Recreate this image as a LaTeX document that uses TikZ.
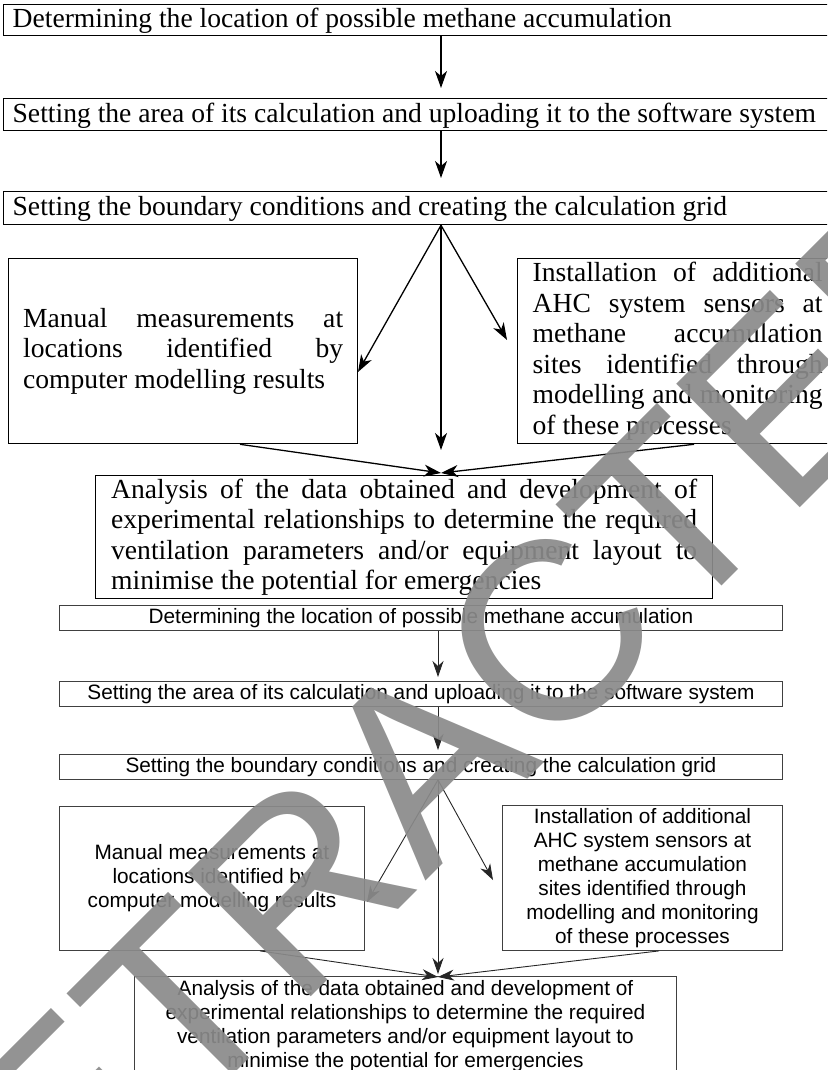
\documentclass[tikz,border=0pt]{standalone}
\usepackage{fontspec}
\setmainfont{Liberation Serif}
\setsansfont{Liberation Sans}
\newfontfamily\stampfont{Liberation Sans}
\usetikzlibrary{arrows.meta}
\newcommand{\jline}[2]{\makebox[#1][s]{\spaceskip=.25em plus 1fil\relax#2}}

\begin{document}
\begin{tikzpicture}[x=1pt,y=-1pt,
  top box/.style={draw,line width=1.3pt,anchor=north west,inner ysep=0pt,font=\fontsize{27.6}{30.5}\selectfont},
  top line/.style={top box,text height=21pt,text depth=6pt,inner xsep=9pt},
  low box/.style={draw=black!75,line width=0.9pt,anchor=north west,inner ysep=0pt,inner xsep=0pt,font=\sffamily\fontsize{20.8}{24}\selectfont},
  low line/.style={low box,text height=15pt,text depth=4.5pt,minimum height=25pt},
  top arrow/.style={-{Stealth[length=17pt,width=12pt,inset=5pt]},line width=1.3pt},
  low arrow/.style={-{Stealth[length=16pt,width=11pt,inset=5pt]},line width=0.9pt,draw=black!85},
  stamp text/.style={inner sep=0pt,rotate=45,text=black!46,text opacity=0.92,font=\stampfont\fontsize{254}{254}\selectfont}]
  \useasboundingbox (0,0) rectangle (827,1070);
  \clip (0,0) rectangle (827,1070);

  % first version
  \node[top line,minimum height=31pt] (n0) at (3,4) {\makebox[820pt][l]{Determining the location of possible methane accumulation}};
  \node[top line,minimum height=32pt] (n1) at (3,98) {\makebox[820pt][l]{Setting the area of its calculation and uploading it to the software system}};
  \node[top line,minimum height=33pt] (n2) at (3,191) {\makebox[820pt][l]{Setting the boundary conditions and creating the calculation grid}};
  \node[top box,inner xsep=14.5pt,minimum height=185pt] (n3) at (8,258)
    {\parbox{320pt}{\jline{320pt}{Manual measurements at}\\ \jline{320pt}{locations identified by}\\ computer modelling results}};
  \node[top box,inner xsep=15pt,minimum height=185pt] (n4) at (517,258)
    {\parbox{290pt}{\jline{290pt}{Installation of additional}\\ \jline{290pt}{AHC system sensors at}\\
     \jline{290pt}{methane accumulation}\\ \jline{290pt}{sites identified through}\\
     \jline{290pt}{modelling and monitoring}\\ of these processes}};
  \node[top box,inner xsep=15.5pt,minimum height=123pt] (n5) at (95,475)
    {\parbox{586pt}{\jline{586pt}{Analysis of the data obtained and development of}\\
     \jline{586pt}{experimental relationships to determine the required}\\
     \jline{586pt}{ventilation parameters and/or equipment layout to}\\
     minimise the potential for emergencies}};

  \coordinate (a1) at (441,88);
  \coordinate (a2) at (441,178);
  \coordinate (a3) at (358,372);
  \coordinate (a4) at (507,340);
  \coordinate (a5) at (441,450);
  \coordinate (a6) at (441,473);
  \coordinate (s3) at (240,443);
  \coordinate (s4) at (694,443);
 \path[]
 (n0.south -| a1) [top arrow] edge (a1)
 (n1.south -| a2) [top arrow] edge (a2)
 (n2.south -| a5) [top arrow] edge (a3)
 (n2.south -| a5) [top arrow] edge (a4)
 (n2.south -| a5) [top arrow] edge (a5)
 (n3.south -| s3) [top arrow] edge (a6)
 (n4.south -| s4) [top arrow] edge (a6);

  % second version
  \node[low line] (m0) at (59,605) {\makebox[723pt]{Determining the location of possible methane accumulation}};
  \node[low line] (m1) at (59,681) {\makebox[723pt]{Setting the area of its calculation and uploading it to the software system}};
  \node[low line] (m2) at (59,754) {\makebox[723pt]{Setting the boundary conditions and creating the calculation grid}};
  \node[low box,minimum height=144pt] (m3) at (59,806)
    {\parbox{305pt}{\centering Manual measurements at\\ locations identified by\\ computer modelling results}};
  \node[low box,minimum height=145pt] (m4) at (502,805)
    {\parbox{280pt}{\centering Installation of additional\\ AHC system sensors at\\ methane accumulation\\ sites identified through\\ modelling and monitoring\\ of these processes}};
  \node[low box,minimum height=99pt] (m5) at (134,976)
    {\parbox{542pt}{\centering Analysis of the data obtained and development of\\ experimental relationships to determine the required\\ ventilation parameters and/or equipment layout to\\ minimise the potential for emergencies}};

  \coordinate (b1) at (438,677);
  \coordinate (b2) at (438,750);
  \coordinate (b3) at (367,902);
  \coordinate (b4) at (493,880);
  \coordinate (b5) at (438,974);
  \coordinate (b6) at (438,977);
  \coordinate (r3) at (260,950);
  \coordinate (r4) at (659,950);
  \draw[low arrow] (m0.south -| b1) -- (b1);
  \draw[low arrow] (m1.south -| b2) -- (b2);
  \draw[low arrow] (m2.south -| b5) -- (b3);
  \draw[low arrow] (m2.south -| b5) -- (b4);
  \draw[low arrow] (m2.south -| b5) -- (b5);
  \draw[low arrow] (m3.south -| r3) -- (b6);
  \draw[low arrow] (m4.south -| r4) -- (b6);

  \node[stamp text] (w) at (424,760) {RETRACTED};
\end{tikzpicture}
\end{document}
